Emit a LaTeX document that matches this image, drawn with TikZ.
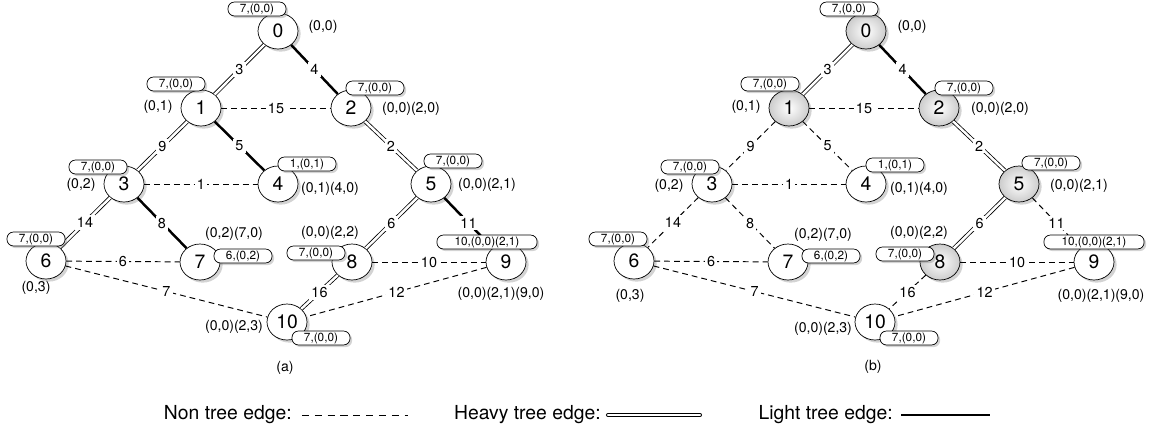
\documentclass[tikz,border=0pt]{standalone}
\usepackage{fontspec}
\setmainfont{TeX Gyre Heros}
\usetikzlibrary{shapes.geometric,shadows}

\begin{document}
\begin{tikzpicture}[x=0.02cm,y=-0.02cm,
    vertex/.style={ellipse,draw,fill=white,minimum width=0.8cm,minimum height=0.72cm,inner sep=0pt,
      font=\fontsize{11}{11}\selectfont,
      drop shadow={shadow xshift=1.5pt,shadow yshift=-1.5pt,opacity=0.35}},
    marked/.style={vertex,shading=radial,inner color=white,outer color=black!20},
    tag/.style={draw,fill=white,rounded corners=3.6pt,minimum height=7.6pt,minimum width=33pt,inner sep=0.8pt,
      font=\fontsize{6.7}{6.7}\selectfont,
      drop shadow={shadow xshift=1.2pt,shadow yshift=-1.2pt,opacity=0.35}},
    widetag/.style={tag,minimum width=57pt},
    lab/.style={inner sep=0pt,font=\fontsize{8}{8}\selectfont},
    wt/.style={fill=white,inner sep=1.3pt,font=\fontsize{8.2}{8}\selectfont},
    nontree/.style={dash pattern=on 3.3pt off 2.3pt,line width=0.55pt},
    heavy/.style={draw=black,line width=0.45pt,double=white,double distance=1.4pt},
    light/.style={line width=1.4pt},
    legend/.style={inner sep=0pt,font=\fontsize{11}{12}\selectfont}]

    \useasboundingbox (0,0) rectangle (1150,434);

    \node[vertex] (a0) at (278,31) {0};
    \node[vertex] (a1) at (201,108) {1};
    \node[vertex] (a2) at (351,108) {2};
    \node[vertex] (a3) at (124,184) {3};
    \node[vertex] (a4) at (278,184) {4};
    \node[vertex] (a5) at (431,184) {5};
    \node[vertex] (a6) at (46,261) {6};
    \node[vertex] (a7) at (200,262) {7};
    \node[vertex] (a8) at (352,262) {8};
    \node[vertex] (a9) at (506,262) {9};
    \node[vertex] (a10) at (287,322) {10};

    \draw[heavy] (a0) -- node[wt] {3} (a1);
    \draw[light] (a0) -- node[wt] {4} (a2);
    \draw[nontree] (a1) -- node[wt] {15} (a2);
    \draw[heavy] (a1) -- node[wt] {9} (a3);
    \draw[light] (a1) -- node[wt] {5} (a4);
    \draw[heavy] (a2) -- node[wt] {2} (a5);
    \draw[nontree] (a3) -- node[wt] {1} (a4);
    \draw[heavy] (a3) -- node[wt] {14} (a6);
    \draw[light] (a3) -- node[wt] {8} (a7);
    \draw[heavy] (a5) -- node[wt] {6} (a8);
    \draw[light] (a5) -- node[wt] {11} (a9);
    \draw[nontree] (a6) -- node[wt] {6} (a7);
    \draw[nontree] (a6) -- node[wt] {7} (a10);
    \draw[nontree] (a8) -- node[wt] {10} (a9);
    \draw[heavy] (a8) -- node[wt] {16} (a10);
    \draw[nontree] (a9) -- node[wt] {12} (a10);

    \node[tag] (ta0) at (257,9) {7,(0,0)};
    \node[tag] (ta1) at (176,84) {7,(0,0)};
    \node[tag] (ta2) at (375,88) {7,(0,0)};
    \node[tag] (ta3) at (98,167) {7,(0,0)};
    \node[tag] (ta4) at (307,164) {1,(0,1)};
    \node[tag] (ta5) at (453,161) {7,(0,0)};
    \node[tag] (ta6) at (36,239) {7,(0,0)};
    \node[tag] (ta7) at (243,256) {6,(0,2)};
    \node[tag] (ta8) at (316,253) {7,(0,0)};
    \node[widetag] (ta9) at (487,242) {10,(0,0)(2,1)};
    \node[tag] (ta10) at (321,338) {7,(0,0)};

    \node[lab] (la0) at (323,27) {(0,0)};
    \node[lab] (la1) at (158,107) {(0,1)};
    \node[lab] (la2) at (411,109) {(0,0)(2,0)};
    \node[lab] (la3) at (81,185) {(0,2)};
    \node[lab] (la4) at (330,189) {(0,1)(4,0)};
    \node[lab] (la5) at (487,185) {(0,0)(2,1)};
    \node[lab] (la6) at (36,288) {(0,3)};
    \node[lab] (la7) at (234,234) {(0,2)(7,0)};
    \node[lab] (la8) at (330,233) {(0,0)(2,2)};
    \node[lab] (la9) at (501,294) {(0,0)(2,1)(9,0)};
    \node[lab] (la10) at (234,327) {(0,0)(2,3)};
    \node[lab] (capa) at (285,368) {(a)};

    \node[marked] (b0) at (866,31) {0};
    \node[marked] (b1) at (789,108) {1};
    \node[marked] (b2) at (939,108) {2};
    \node[vertex] (b3) at (712,184) {3};
    \node[vertex] (b4) at (866,184) {4};
    \node[marked] (b5) at (1019,184) {5};
    \node[vertex] (b6) at (634,261) {6};
    \node[vertex] (b7) at (788,262) {7};
    \node[marked] (b8) at (940,262) {8};
    \node[vertex] (b9) at (1094,262) {9};
    \node[vertex] (b10) at (875,322) {10};

    \draw[heavy] (b0) -- node[wt] {3} (b1);
    \draw[light] (b0) -- node[wt] {4} (b2);
    \draw[nontree] (b1) -- node[wt] {15} (b2);
    \draw[nontree] (b1) -- node[wt] {9} (b3);
    \draw[nontree] (b1) -- node[wt] {5} (b4);
    \draw[heavy] (b2) -- node[wt] {2} (b5);
    \draw[nontree] (b3) -- node[wt] {1} (b4);
    \draw[nontree] (b3) -- node[wt] {14} (b6);
    \draw[nontree] (b3) -- node[wt] {8} (b7);
    \draw[heavy] (b5) -- node[wt] {6} (b8);
    \draw[nontree] (b5) -- node[wt] {11} (b9);
    \draw[nontree] (b6) -- node[wt] {6} (b7);
    \draw[nontree] (b6) -- node[wt] {7} (b10);
    \draw[nontree] (b8) -- node[wt] {10} (b9);
    \draw[nontree] (b8) -- node[wt] {16} (b10);
    \draw[nontree] (b9) -- node[wt] {12} (b10);

    \node[tag] (tb0) at (849,9) {7,(0,0)};
    \node[tag] (tb1) at (770,84) {7,(0,0)};
    \node[tag] (tb2) at (964,88) {7,(0,0)};
    \node[tag] (tb3) at (690,167) {7,(0,0)};
    \node[tag] (tb4) at (895,165) {1,(0,1)};
    \node[tag] (tb5) at (1051,163) {7,(0,0)};
    \node[tag] (tb6) at (618,239) {7,(0,0)};
    \node[tag] (tb7) at (831,256) {6,(0,2)};
    \node[tag] (tb8) at (905,254) {7,(0,0)};
    \node[widetag] (tb9) at (1094,242) {10,(0,0)(2,1)};
    \node[tag] (tb10) at (909,338) {7,(0,0)};

    \node[lab] (lb0) at (912,27) {(0,0)};
    \node[lab] (lb1) at (746,107) {(0,1)};
    \node[lab] (lb2) at (1000,109) {(0,0)(2,0)};
    \node[lab] (lb3) at (669,186) {(0,2)};
    \node[lab] (lb4) at (919,189) {(0,1)(4,0)};
    \node[lab] (lb5) at (1079,186) {(0,0)(2,1)};
    \node[lab] (lb6) at (630,296) {(0,3)};
    \node[lab] (lb7) at (823,235) {(0,2)(7,0)};
    \node[lab] (lb8) at (919,233) {(0,0)(2,2)};
    \node[lab] (lb9) at (1101,296) {(0,0)(2,1)(9,0)};
    \node[lab] (lb10) at (823,329) {(0,0)(2,3)};
    \node[lab] (capb) at (873,367) {(b)};

    \node[legend,anchor=east] (nontreetxt) at (292,415) {Non tree edge:};
    \coordinate (nt1) at (302,415);
    \coordinate (nt2) at (408,415);
    \draw[nontree,dash pattern=on 4pt off 3.3pt] (nt1) -- (nt2);
    \node[legend,anchor=east] (heavytxt) at (601,415) {Heavy tree edge:};
    \coordinate (hv1) at (608,415);
    \coordinate (hv2) at (700,415);
    \draw[heavy,line cap=round] (hv1) -- (hv2);
    \node[legend,anchor=east] (lighttxt) at (893,415) {Light tree edge:};
    \coordinate (lt1) at (901,415);
    \coordinate (lt2) at (990,415);
    \draw[light,line width=1.6pt] (lt1) -- (lt2);

\end{tikzpicture}
\end{document}
